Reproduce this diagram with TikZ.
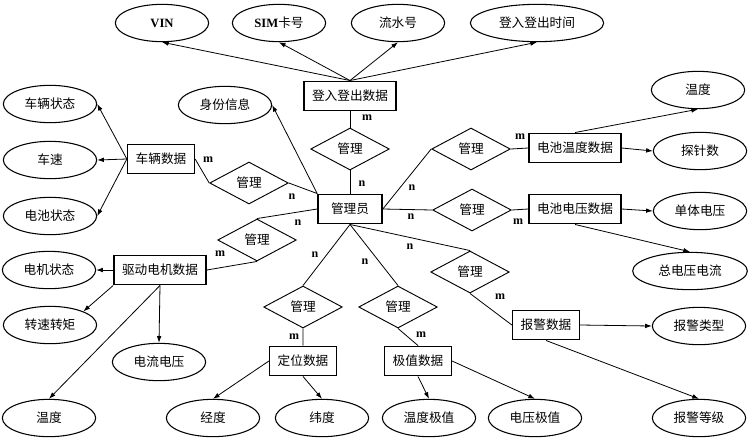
\documentclass[tikz,border=0pt]{standalone}
\usepackage{fontspec}
\setmainfont{Liberation Serif}
\newfontfamily\cjk{Noto Sans CJK SC}
\usetikzlibrary{shapes.geometric,arrows.meta}

\tikzset{
  txt/.style={font=\cjk\fontsize{9.5}{11}\selectfont},
  attr/.style={txt,ellipse,draw,line width=0.8pt,minimum height=28pt,inner sep=0pt},
  ent/.style={txt,rectangle,draw,line width=1.2pt,minimum width=48pt,minimum height=22pt,inner xsep=6pt},
  rel/.style={txt,diamond,draw,line width=0.7pt,aspect=1.9,minimum width=59pt,minimum height=31.5pt,inner sep=0pt},
  link/.style={line width=0.6pt},
  arr/.style={link,-{Latex[length=5pt,width=3.5pt]}},
  card/.style={font=\bfseries\fontsize{9}{10}\selectfont}
}

\begin{document}
\begin{tikzpicture}[x=0.75pt,y=-0.75pt]
  \useasboundingbox (0,0) rectangle (748,440);

  % entities
  \node[ent] (login) at (350,96) {登入登出数据};
  \node[ent] (admin) at (350,209) {管理员};
  \node[ent] (veh) at (161,159) {车辆数据};
  \node[ent] (motor) at (160,270) {驱动电机数据};
  \node[ent] (loc) at (303,361) {定位数据};
  \node[ent] (ext) at (418,361) {极值数据};
  \node[ent] (alarm) at (546,325) {报警数据};
  \node[ent] (btemp) at (575,148) {电池温度数据};
  \node[ent] (bvolt) at (575,209) {电池电压数据};

  % relations
  \foreach \n/\x/\y in {r1/350/149,r2/249/183,r3/257/240,r4/303/307,
                        r5/398/307,r6/470/272,r7/471/149,r8/472/210}
    \node[rel] (\n) at (\x,\y) {管理};

  % attributes
  \foreach \n/\x/\y/\w/\t in {
      vin/162/23/70/{\rmfamily\bfseries VIN},
      sim/279/23/70/{{\rmfamily\bfseries SIM}卡号},
      serial/398/23/70/流水号,
      logtime/537/23/100/登入登出时间,
      ident/225/105/70/身份信息,
      vstate/50/104/70/车辆状态,
      speed/50/160/70/车速,
      bstate/50/216/70/电池状态,
      mstate/49/270/70/电机状态,
      torque/50/325/70/转速转矩,
      curvolt/159/362/70/电流电压,
      mtemp/49/418/70/温度,
      lon/213/418/70/经度,
      lat/322/418/70/纬度,
      tmax/429/418/70/温度极值,
      vmax/535/418/70/电压极值,
      alevel/699/418/70/报警等级,
      atype/699/326/70/报警类型,
      total/690/271/86/总电压电流,
      cell/700/211/70/单体电压,
      probe/700/151/70/探针数,
      ptemp/698/90/70/温度}
    \node[attr,minimum width=\w pt] (\n) at (\x,\y) {\t};

  % attribute arrows
  \foreach \e in {vin,sim,serial,logtime}
    \draw[arr] (login.north) -- (\e.south);
  \draw[arr] (admin.north west) -- (ident.east);
  \foreach \e in {vstate,speed,bstate}
    \draw[arr] (veh.west) -- (\e.east);
  \draw[arr] (motor.west) -- (mstate.east);
  \draw[arr] (motor.south west) -- (torque.north east);
  \draw[arr] (motor.south) -- (curvolt.north);
  \draw[arr] (motor.south) -- (mtemp.north);
  \draw[arr] (loc.west) -- (lon.north);
  \draw[arr] (loc.south) -- (lat.north);
  \draw[arr] (ext.south) -- (tmax.north);
  \draw[arr] (ext.east) -- (vmax.north);
  \draw[arr] (alarm.east) -- (atype.west);
  \draw[arr] (alarm.south) -- (alevel.north);
  \draw[arr] (btemp.north) -- (ptemp.south);
  \draw[arr] (btemp.east) -- (probe.west);
  \draw[arr] (bvolt.east) -- (cell.west);
  \draw[arr] (bvolt.south) -- (total.north);

  % relation links
  \draw[link] (login.south) -- (r1.north) (r1.south) -- (admin.north);
  \draw[link] (veh.east) -- (r2.west) (r2.east) -- (admin.north west);
  \draw[link] (admin.west) -- (r3.north) (r3.south) -- (motor.east);
  \draw[link] (admin.south) -- (r4.north) (r4.south) -- (loc.north);
  \draw[link] (admin.south) -- (r5.north) (r5.south) -- (ext.north);
  \draw[link] (admin.south) -- (r6.north) (r6.south) -- (alarm.west);
  \draw[link] (admin.east) -- (r7.west) (r7.east) -- (btemp.west);
  \draw[link] (admin.east) -- (r8.west) (r8.east) -- (bvolt.west);

  % cardinalities
  \foreach \n/\x/\y/\t in {c1/367/118/m,c2/362/184/n,c3/208/160/m,c4/292/197/n,
                           c5/298/223/n,c6/220/254/m,c7/315/255/n,c8/294/337/m,
                           c9/365/262/n,c10/421/335/m,c11/410/247/n,c12/500/297/m,
                           c13/412/188/n,c14/520/137/m,c15/411/217/n,c16/518/222/m}
    \node[card] (\n) at (\x,\y) {\t};
\end{tikzpicture}
\end{document}
